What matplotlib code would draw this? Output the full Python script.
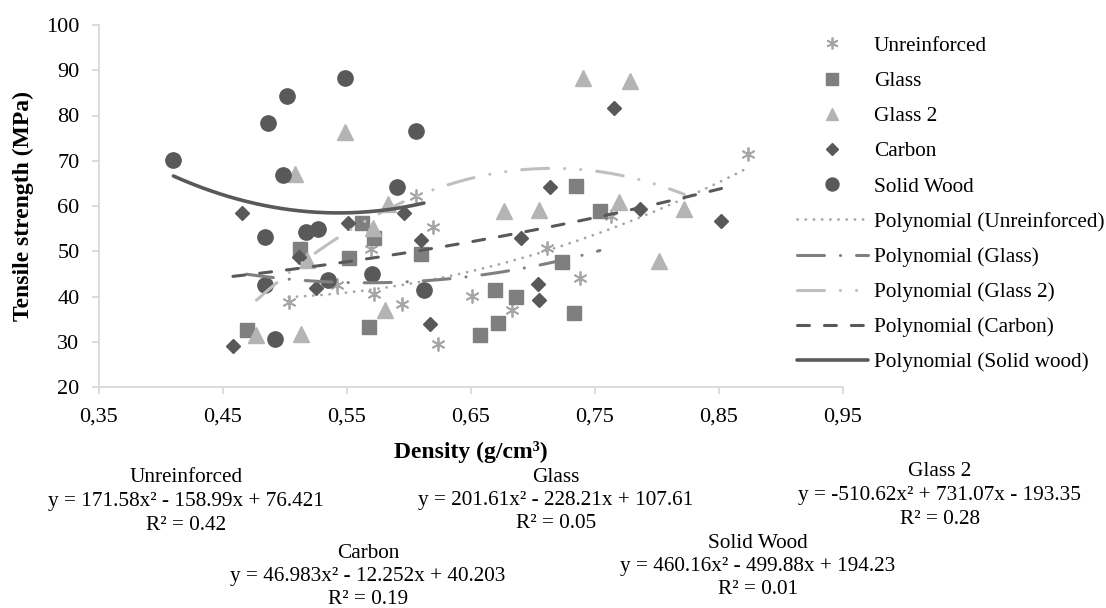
import matplotlib
matplotlib.use("Agg")
import matplotlib.pyplot as plt
from matplotlib.ticker import FuncFormatter, FixedLocator
import numpy as np

plt.rcParams['font.family'] = ['Liberation Serif', 'DejaVu Serif']
plt.rcParams['lines.scale_dashes'] = False

# data (density g/cm3, tensile strength MPa)
unre_x = [0.503, 0.542, 0.569, 0.572, 0.594, 0.606, 0.619, 0.623, 0.651, 0.683, 0.711, 0.738, 0.763, 0.873]
unre_y = [38.7, 42.6, 50.4, 40.5, 38.3, 62.1, 55.4, 29.6, 40.2, 37.0, 50.8, 44.0, 57.7, 71.4]

glass_x = [0.469, 0.512, 0.552, 0.562, 0.572, 0.568, 0.610, 0.657, 0.669, 0.672, 0.686, 0.723, 0.733, 0.735, 0.754]
glass_y = [32.5, 50.4, 48.6, 56.2, 52.9, 33.2, 49.5, 31.6, 41.4, 34.2, 39.8, 47.7, 36.3, 64.4, 59.0]

glass2_x = [0.477, 0.508, 0.513, 0.518, 0.548, 0.571, 0.581, 0.583, 0.677, 0.705, 0.740, 0.769, 0.778, 0.802, 0.822]
glass2_y = [31.5, 67.0, 31.8, 48.0, 76.3, 55.1, 37.0, 60.5, 58.8, 59.2, 88.2, 60.8, 87.7, 47.8, 59.4]

carbon_x = [0.458, 0.465, 0.511, 0.525, 0.551, 0.596, 0.610, 0.617, 0.690, 0.704, 0.705, 0.714, 0.765, 0.786, 0.852]
carbon_y = [29.1, 58.4, 48.7, 41.8, 56.2, 58.4, 52.5, 33.9, 52.9, 42.7, 39.3, 64.3, 81.7, 59.3, 56.6]

wood_x = [0.410, 0.484, 0.484, 0.486, 0.492, 0.498, 0.502, 0.517, 0.527, 0.535, 0.548, 0.570, 0.590, 0.606, 0.612]
wood_y = [70.1, 53.2, 42.5, 78.3, 30.7, 66.8, 84.4, 54.3, 55.0, 43.7, 88.2, 44.9, 64.2, 76.5, 41.5]

# polynomial trendline coefficients as printed on the chart (a, b, c)
unre_fit = [171.58, -158.99, 76.421]
glass_fit = [201.61, -228.21, 107.61]
glass2_fit = [-510.62, 731.07, -193.35]
carbon_fit = [46.983, -12.252, 40.203]
wood_fit = [460.16, -499.88, 194.23]

fit_labels = [["Unreinforced", "y = 171.58x² - 158.99x + 76.421", "R² = 0.42"],
              ["Glass", "y = 201.61x² - 228.21x + 107.61", "R² = 0.05"],
              ["Glass 2", "y = -510.62x² + 731.07x - 193.35", "R² = 0.28"],
              ["Carbon", "y = 46.983x² - 12.252x + 40.203", "R² = 0.19"],
              ["Solid Wood", "y = 460.16x² - 499.88x + 194.23", "R² = 0.01"]]

x_ticks = [0.35, 0.45, 0.55, 0.65, 0.75, 0.85, 0.95]
y_ticks = [20, 30, 40, 50, 60, 70, 80, 90, 100]

W, H = 1106, 608
fig = plt.figure(figsize=(W / 100, H / 100), dpi=100)
ax = fig.add_axes([99 / W, 1 - 387 / H, 744 / W, 362 / H])

c_unre = '#A6A6A6'
c_glass = '#7F7F7F'
c_glass2 = '#B4B4B4'
c_dark = '#595959'

ax.plot(unre_x, unre_y, ls='none', marker=(6, 2, 0), ms=10, mew=1.3, color=c_unre, label='Unreinforced')
ax.plot(glass_x, glass_y, ls='none', marker='s', ms=10, color=c_glass, label='Glass')
ax.plot(glass2_x, glass2_y, ls='none', marker='^', ms=11, color=c_glass2, label='Glass 2')
ax.plot(carbon_x, carbon_y, ls='none', marker='D', ms=7, color=c_dark, label='Carbon')
ax.plot(wood_x, wood_y, ls='none', marker='o', ms=11, color=c_dark, label='Solid Wood')


def trend(xs, coef, **kw):
    xx = np.linspace(min(xs), max(xs), 200)
    ax.plot(xx, np.polyval(coef, xx), solid_capstyle='round', dash_capstyle='round', **kw)


trend(unre_x, unre_fit, color=c_unre, lw=2.0, ls=(0, (0.1, 5.8)), label='Polynomial (Unreinforced)')
trend(glass_x, glass_fit, color=c_glass, lw=2.2, ls=(0, (19.4, 11.5, 0.1, 11.5)), label='Polynomial (Glass)')
trend(glass2_x, glass2_fit, color='#BFBFBF', lw=2.2, ls=(0, (19.4, 11.5, 0.1, 11.5, 0.1, 11.5)),
      label='Polynomial (Glass 2)')
trend(carbon_x, carbon_fit, color=c_dark, lw=2.2, ls=(0, (8.6, 10.8)), label='Polynomial (Carbon)')
trend(wood_x, wood_fit, color=c_dark, lw=2.6, ls='-', label='Polynomial (Solid wood)')

ax.set_xlim(0.35, 0.95)
ax.set_ylim(20, 100)
ax.xaxis.set_major_locator(FixedLocator(x_ticks))
ax.yaxis.set_major_locator(FixedLocator(y_ticks))
ax.xaxis.set_major_formatter(FuncFormatter(lambda v, p: f"{v:.2f}".replace('.', ',')))
ax.yaxis.set_major_formatter(FuncFormatter(lambda v, p: f"{v:.0f}"))

for s in ['top', 'right']:
    ax.spines[s].set_visible(False)
for s in ['left', 'bottom']:
    ax.spines[s].set_color('#D9D9D9')
    ax.spines[s].set_linewidth(1.3)
ax.tick_params(direction='out', length=5, width=1.3, color='#D9D9D9', labelsize=16, labelcolor='black')
ax.tick_params(axis='x', pad=10)
ax.tick_params(axis='y', pad=9)

fig.text(23 / W, 1 - 206 / H, 'Tensile strength (MPa)', rotation=90, ha='center', va='center',
         fontsize=17, fontweight='bold')
fig.text(471 / W, 1 - 452 / H, 'Density (g/cm³)', ha='center', va='center', fontsize=17, fontweight='bold')

leg = ax.legend(loc='upper left', bbox_to_anchor=(797 / W, 1 - 36 / H), bbox_transform=fig.transFigure,
                frameon=False, fontsize=15.3, handlelength=3.34, handletextpad=0.28, labelspacing=0.72,
                borderpad=0, borderaxespad=0, markerscale=0.85)

# trendline equation blocks: centre x and centre y of first line, in pixels
eq_pos = [(186, 478), (556, 477), (940, 472), (368, 553), (758, 543)]
for lines, (px, py) in zip(fit_labels, eq_pos):
    for i, line in enumerate(lines):
        fig.text(px / W, 1 - (py + i * 23.5) / H, line, ha='center', va='center', fontsize=15.3)

fig.savefig('out.png', dpi=100)
